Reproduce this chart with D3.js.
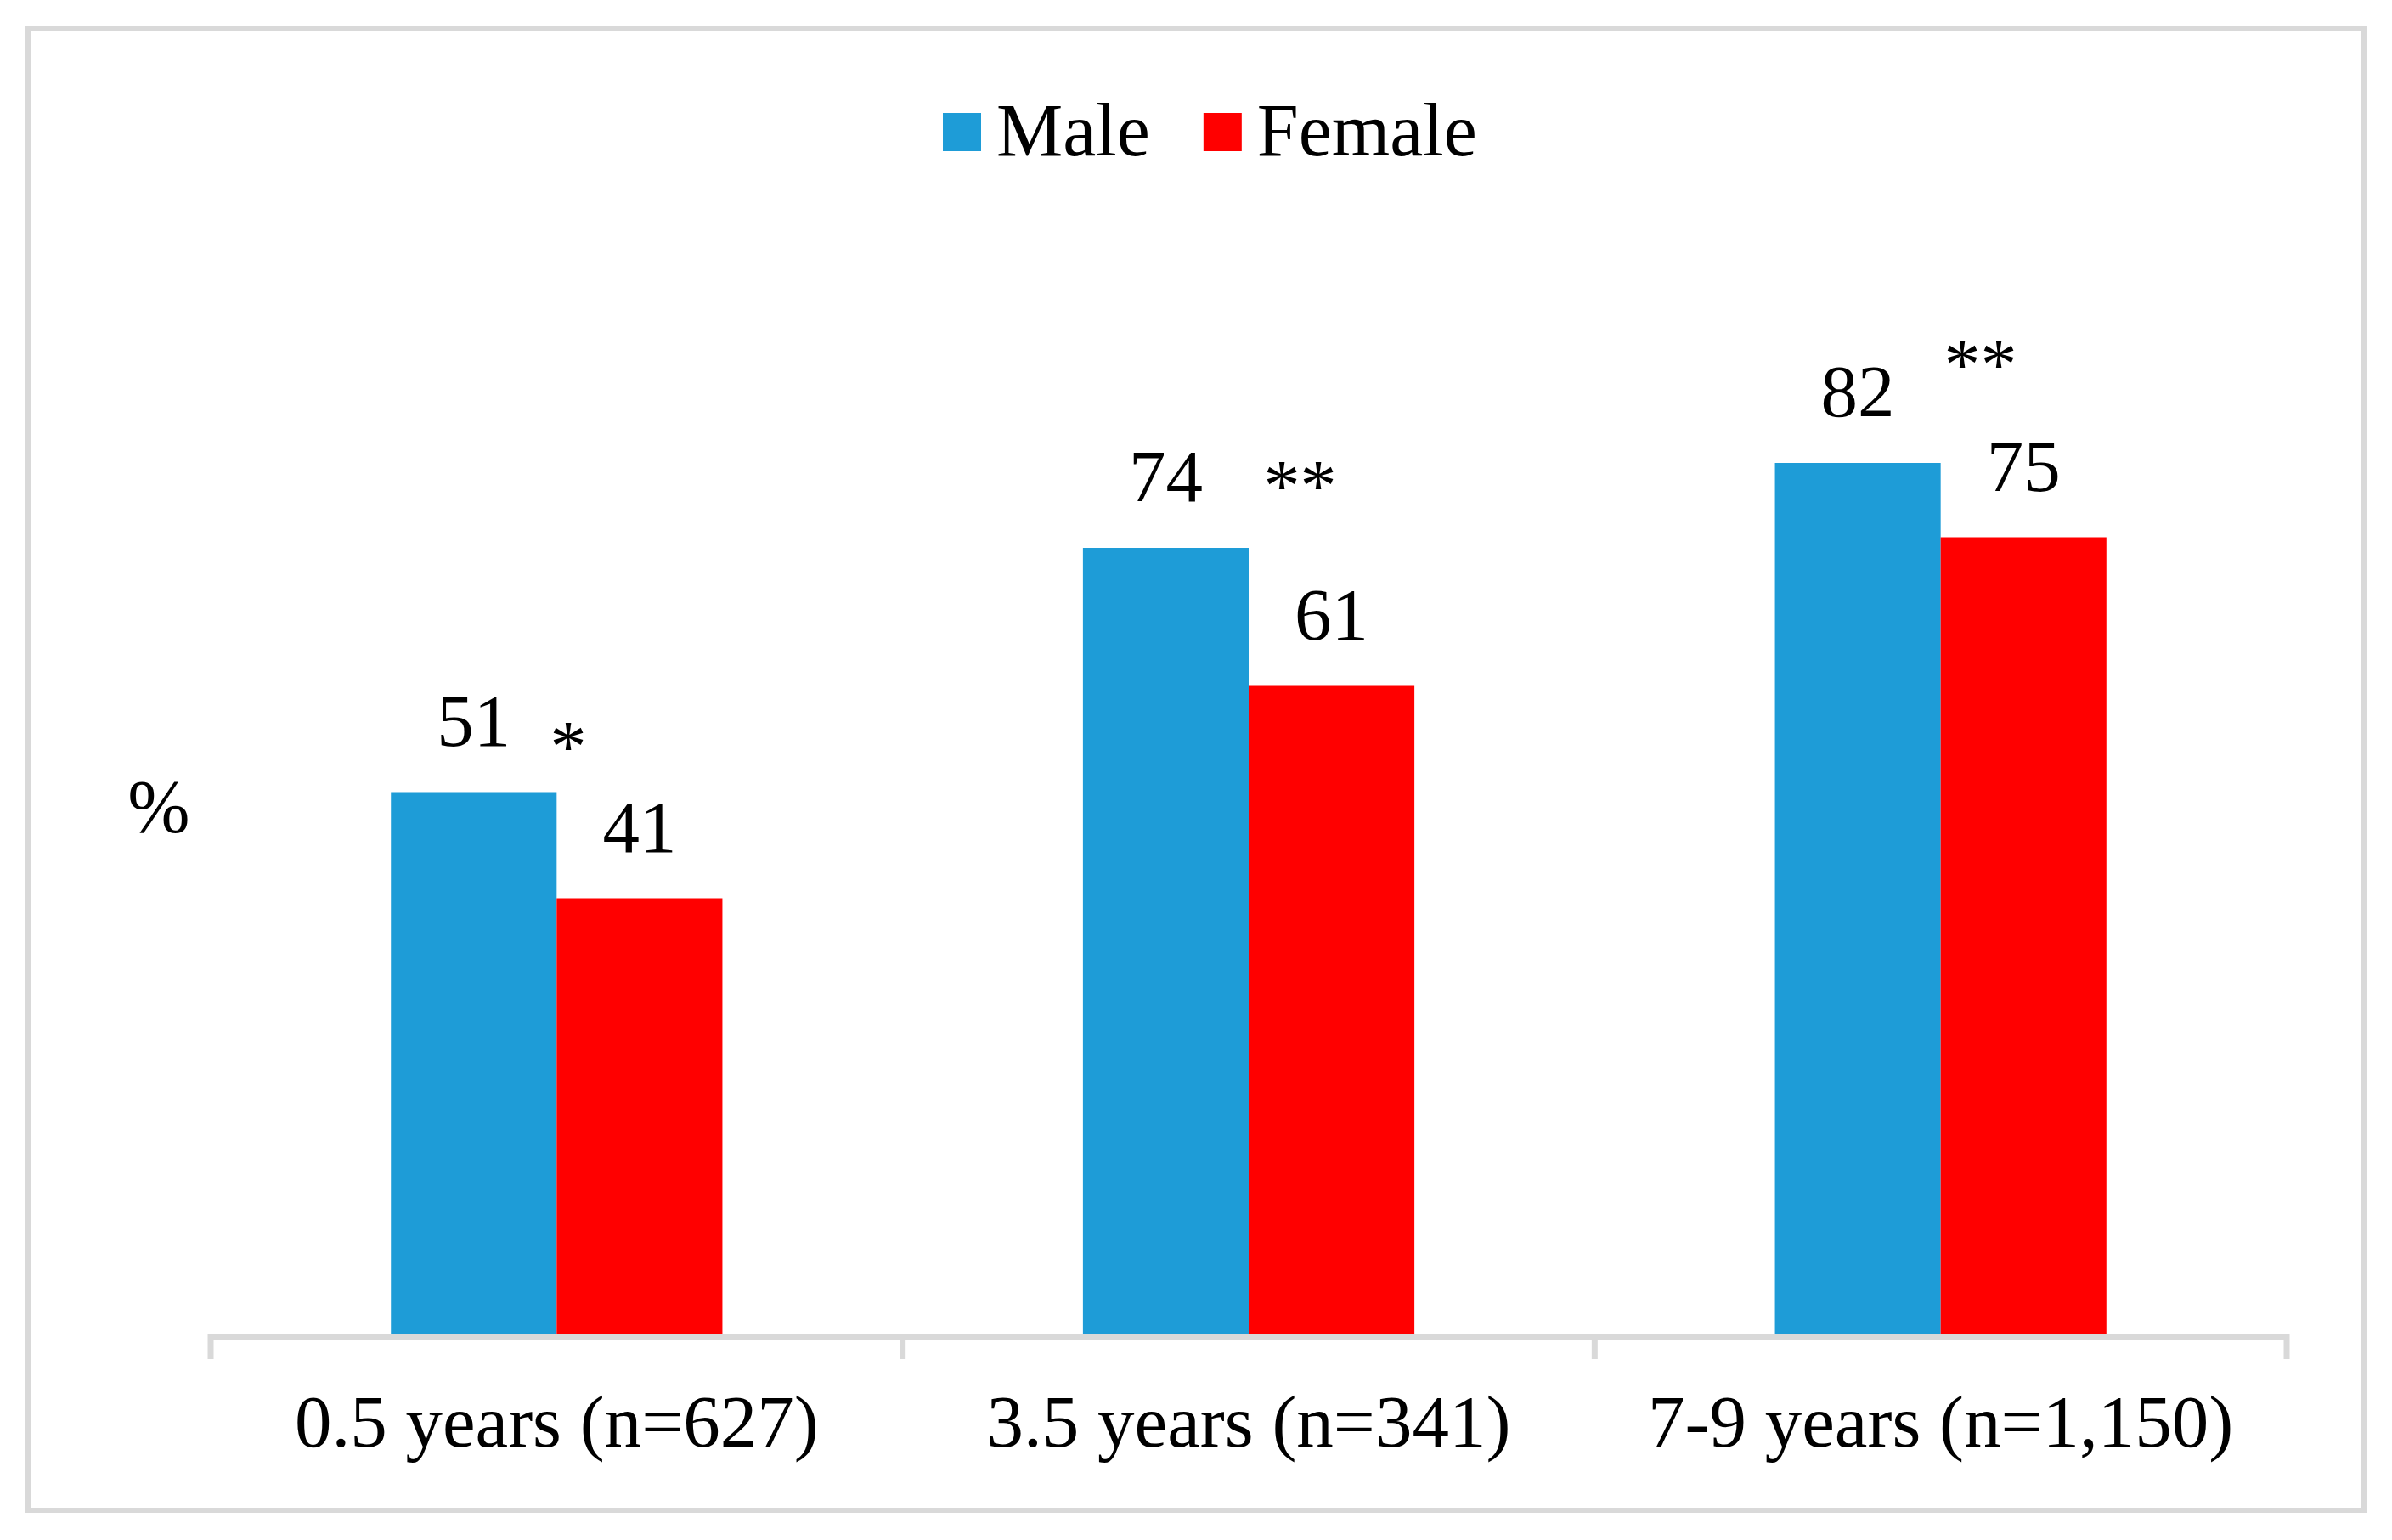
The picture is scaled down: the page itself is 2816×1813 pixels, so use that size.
<!DOCTYPE html>
<html>
<head>
<meta charset="utf-8">
<script src="https://cdn.jsdelivr.net/npm/d3@7"></script>
<style>
    body { margin: 0; background: #fff; }
    text { font-family: "Liberation Serif", "Times New Roman", serif; fill: #000; }
</style>
</head>
<body>
<div id="chart"></div>
<script>
// chart values
const categories = ["0.5 years (n=627)", "3.5 years (n=341)", "7-9 years (n=1,150)"];
const series = ["Male", "Female"];
const maleValues = [51, 74, 82];
const femaleValues = [41, 61, 75];
const colors = ["#1E9CD7", "#FF0000"];

// significance marks, level given in % units
const sigMarks = ["*", "**", "**"];
const sigLevel = [53, 77.5, 89];
const sigShift = [0.07, 0.31, 0.24];   // share of a bar width right of the bar join

const width = 2816, height = 1813;
const yBottom = 1570, yTop = 320;

let svg = d3.select("#chart")
    .append("svg")
    .attr("width", width)
    .attr("height", height);

// outer frame
svg.append("rect")
    .attr("x", 33).attr("y", 34)
    .attr("width", 2750).attr("height", 1744)
    .attr("fill", "none")
    .attr("stroke", "#D9D9D9")
    .attr("stroke-width", 6);

let x0 = d3.scaleBand()
    .domain(categories)
    .range([248, 2692])
    .padding(0);

const groupFrac = 0.479;
let x1 = d3.scaleBand()
    .domain(series)
    .range([0, x0.bandwidth() * groupFrac]);

let y = d3.scaleLinear()
    .domain([0, 100])
    .range([yBottom, yTop]);

let rows = categories.map(function (c, i) {
    return {cat: c, vals: [maleValues[i], femaleValues[i]], sig: sigMarks[i], sigY: sigLevel[i], sigDx: sigShift[i]};
});

let groupOffset = x0.bandwidth() * (1 - groupFrac) / 2;

let groups = svg.selectAll("g.grp")
    .data(rows)
    .enter().append("g")
    .attr("class", "grp")
    .attr("transform", function (d) {
        return "translate(" + (x0(d.cat) + groupOffset) + ",0)";
    });

groups.selectAll("rect")
    .data(function (d) {
        return d.vals.map(function (v, j) { return {s: series[j], v: v, j: j}; });
    })
    .enter().append("rect")
    .attr("x", d => x1(d.s))
    .attr("y", d => y(d.v))
    .attr("width", x1.bandwidth())
    .attr("height", d => y(0) - y(d.v))
    .attr("fill", d => colors[d.j]);

groups.selectAll("text.val")
    .data(function (d) {
        return d.vals.map(function (v, j) { return {s: series[j], v: v}; });
    })
    .enter().append("text")
    .attr("class", "val")
    .attr("x", d => x1(d.s) + x1.bandwidth() / 2)
    .attr("y", d => y(d.v) - 55)
    .attr("text-anchor", "middle")
    .style("font-size", "87px")
    .text(d => d.v);

groups.append("text")
    .attr("class", "sig")
    .attr("x", d => x1("Female") + d.sigDx * x1.bandwidth())
    .attr("y", d => y(d.sigY))
    .attr("text-anchor", "middle")
    .style("font-size", "86px")
    .text(d => d.sig);

// x axis
let axis = svg.append("g");
axis.append("line")
    .attr("x1", x0.range()[0] - 3).attr("x2", x0.range()[1] + 3)
    .attr("y1", y(0) + 3.5).attr("y2", y(0) + 3.5)
    .attr("stroke", "#D9D9D9")
    .attr("stroke-width", 7);

let tickPos = categories.map(c => x0(c)).concat([x0.range()[1]]);
axis.selectAll("line.tick")
    .data(tickPos)
    .enter().append("line")
    .attr("class", "tick")
    .attr("x1", d => d).attr("x2", d => d)
    .attr("y1", y(0)).attr("y2", y(0) + 30)
    .attr("stroke", "#D9D9D9")
    .attr("stroke-width", 7);

axis.selectAll("text")
    .data(categories)
    .enter().append("text")
    .attr("x", d => x0(d) + x0.bandwidth() / 2)
    .attr("y", 1703)
    .attr("text-anchor", "middle")
    .style("font-size", "87px")
    .text(d => d);

// y title
svg.append("text")
    .attr("x", 187)
    .attr("y", 979)
    .attr("text-anchor", "middle")
    .style("font-size", "88px")
    .text("%");

// legend
let legend = svg.append("g");
let lx = 1110;
series.forEach(function (s, i) {
    legend.append("rect")
        .attr("x", lx).attr("y", 133)
        .attr("width", 45).attr("height", 45)
        .attr("fill", colors[i]);
    let t = legend.append("text")
        .attr("x", lx + 63)
        .attr("y", 183)
        .style("font-size", "88px")
        .text(s);
    lx = lx + 63 + t.node().getComputedTextLength() + 63;
});
</script>
</body>
</html>
